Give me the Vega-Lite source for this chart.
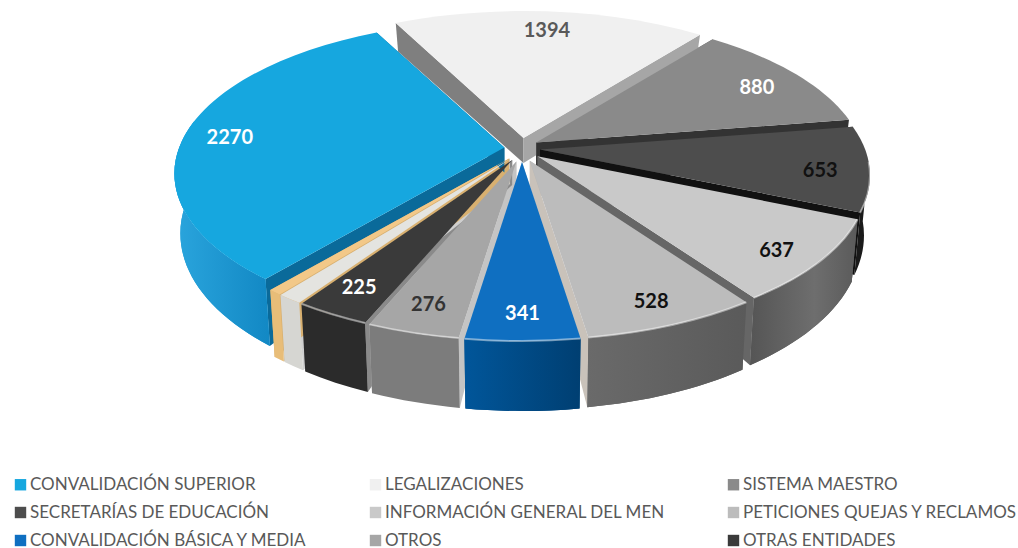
{"$schema":"https://vega.github.io/schema/vega-lite/v6.json","width":1018,"height":548,"autosize":"none","padding":0,"background":"white","config":{"view":{"stroke":null}},
"datasets":{"tabla":[
{"categoria":"LEGALIZACIONES","valor":1394,"orden":1},
{"categoria":"SISTEMA MAESTRO","valor":880,"orden":2},
{"categoria":"SECRETARÍAS DE EDUCACIÓN","valor":653,"orden":3},
{"categoria":"INFORMACIÓN GENERAL DEL MEN","valor":637,"orden":4},
{"categoria":"PETICIONES QUEJAS Y RECLAMOS","valor":528,"orden":5},
{"categoria":"CONVALIDACIÓN BÁSICA Y MEDIA","valor":341,"orden":6},
{"categoria":"OTROS","valor":276,"orden":7},
{"categoria":"OTRAS ENTIDADES","valor":225,"orden":8},
{"categoria":"SIN RÓTULO 1","valor":75,"orden":9},
{"categoria":"SIN RÓTULO 2","valor":40,"orden":10},
{"categoria":"CONVALIDACIÓN SUPERIOR","valor":2270,"orden":11}]},
"data":{"name":"tabla"},
"transform":[
{"joinaggregate":[{"op":"sum","field":"valor","as":"total"}]},
{"stack":"valor","sort":[{"field":"orden","order":"ascending"}],"as":["v0","v1"]},
{"calculate":"-28.5+datum.v0/datum.total*360","as":"fa"},
{"calculate":"-28.5+datum.v1/datum.total*360","as":"fb"},
{"calculate":"datum.fa-12*sin(PI*datum.fa/180)-1.5*max(0,-cos(PI*datum.fa/180))","as":"ta"},
{"calculate":"datum.fb-12*sin(PI*datum.fb/180)-1.5*max(0,-cos(PI*datum.fb/180))","as":"tb"},
{"calculate":"(datum.ta+datum.tb)/2","as":"tm"},
{"calculate":"max(datum.ta,85)","as":"wa"},
{"calculate":"min(datum.tb,290)","as":"wb"},
{"calculate":"522+18*sin(PI*datum.tm/180)","as":"px"},
{"calculate":"150-12*cos(PI*datum.tm/180)","as":"py"},
{"calculate":"330*sin(PI*datum.ta/180)","as":"xa"},
{"calculate":"26-153*cos(PI*datum.ta/180)","as":"ya"},
{"calculate":"330*sin(PI*datum.tb/180)","as":"xb"},
{"calculate":"26-153*cos(PI*datum.tb/180)","as":"yb"},
{"calculate":"324*sin(PI*datum.ta/180)","as":"bxa"},
{"calculate":"datum.ya+(cos(PI*datum.ta/180)>0?60-34*cos(PI*datum.ta/180):60-10*cos(PI*datum.ta/180))","as":"bya"},
{"calculate":"324*sin(PI*datum.tb/180)","as":"bxb"},
{"calculate":"datum.yb+(cos(PI*datum.tb/180)>0?60-45*cos(PI*datum.tb/180):60-10*cos(PI*datum.tb/180))","as":"byb"},
{"calculate":"330*sin(PI*datum.wa/180)","as":"wxa"},
{"calculate":"26-153*cos(PI*datum.wa/180)","as":"wya"},
{"calculate":"330*sin(PI*datum.wb/180)","as":"wxb"},
{"calculate":"26-153*cos(PI*datum.wb/180)","as":"wyb"},
{"calculate":"324*sin(PI*datum.wa/180)","as":"wbxa"},
{"calculate":"86-163*cos(PI*datum.wa/180)","as":"wbya"},
{"calculate":"324*sin(PI*datum.wb/180)","as":"wbxb"},
{"calculate":"86-163*cos(PI*datum.wb/180)","as":"wbyb"},
{"calculate":"'M0,0L'+datum.xa+','+datum.ya+'A330,153,0,0,1,'+datum.xb+','+datum.yb+'Z'","as":"caraSuperior"},
{"calculate":"'M0,0L'+datum.xa+','+datum.ya+'L'+datum.bxa+','+datum.bya+'L0,25Z'","as":"corteA"},
{"calculate":"'M0,0L'+datum.xb+','+datum.yb+'L'+datum.bxb+','+datum.byb+'L0,25Z'","as":"corteB"},
{"calculate":"'M'+datum.wxa+','+datum.wya+'A330,153,0,0,1,'+datum.wxb+','+datum.wyb+'L'+datum.wbxb+','+datum.wbyb+'A324,163,0,0,0,'+datum.wbxa+','+datum.wbya+'Z'","as":"pared"},
{"calculate":"'M'+datum.wxa+','+datum.wya+'A330,153,0,0,1,'+datum.wxb+','+datum.wyb","as":"borde"},
{"calculate":"datum.px+0.85*330*sin(PI*datum.tm/180)","as":"lx"},
{"calculate":"datum.py+0.85*(26-153*cos(PI*datum.tm/180))+5*sin(PI*datum.tm/180)","as":"ly"}
],
"encoding":{
"x":{"field":"px","type":"quantitative","scale":{"domain":[0,1018],"range":[0,1018],"nice":false,"zero":false},"axis":null},
"y":{"field":"py","type":"quantitative","scale":{"domain":[0,548],"range":[0,548],"nice":false,"zero":false},"axis":null}
},
"layer":[
{"mark":{"type":"point","filled":true,"size":4,"opacity":1},"encoding":{"shape":{"field":"corteA","type":"nominal","scale":null},
"color":{"field":"categoria","type":"nominal","legend":null,"scale":{"domain":["LEGALIZACIONES","SISTEMA MAESTRO","SECRETARÍAS DE EDUCACIÓN","INFORMACIÓN GENERAL DEL MEN","PETICIONES QUEJAS Y RECLAMOS","CONVALIDACIÓN BÁSICA Y MEDIA","OTROS","OTRAS ENTIDADES","SIN RÓTULO 1","SIN RÓTULO 2","CONVALIDACIÓN SUPERIOR"],"range":["#7f7f7f","#5a5a5a","#333333","#909090","#b8b4ae","#b9c4cc","#c4c4c4","#8a8a8a","#cfcfcf","#d8b070","#0a6a9a"]}}}},
{"mark":{"type":"point","filled":true,"size":4,"opacity":1},"encoding":{"shape":{"field":"corteB","type":"nominal","scale":null},
"color":{"field":"categoria","type":"nominal","legend":null,"scale":{"domain":["LEGALIZACIONES","SISTEMA MAESTRO","SECRETARÍAS DE EDUCACIÓN","INFORMACIÓN GENERAL DEL MEN","PETICIONES QUEJAS Y RECLAMOS","CONVALIDACIÓN BÁSICA Y MEDIA","OTROS","OTRAS ENTIDADES","SIN RÓTULO 1","SIN RÓTULO 2","CONVALIDACIÓN SUPERIOR"],"range":["#a6a6a6","#333333","#111111","#666666","#c9c2ba","#b9c4cc","#c4c4c4","#8a8a8a","#cfcfcf","#d8b070","#0a6a9a"]}}}},
{"transform":[{"filter":"datum.wb>datum.wa"}],"mark":{"type":"point","filled":true,"size":4,"opacity":1},"encoding":{"shape":{"field":"pared","type":"nominal","scale":null},
"color":{"field":"categoria","type":"nominal","legend":null,"scale":{"domain":["LEGALIZACIONES","SISTEMA MAESTRO","SECRETARÍAS DE EDUCACIÓN","INFORMACIÓN GENERAL DEL MEN","PETICIONES QUEJAS Y RECLAMOS","CONVALIDACIÓN BÁSICA Y MEDIA","OTROS","OTRAS ENTIDADES","SIN RÓTULO 1","SIN RÓTULO 2","CONVALIDACIÓN SUPERIOR"],"range":["#7f7f7f","#5a5a5a","#1a1a1a","#626262","#626262","#014a85","#7c7c7c","#2b2b2b","#d6d6d2","#e8bd78","#1f9cd6"]}}}},
{"transform":[{"filter":"datum.orden==4"}],"mark":{"type":"point","filled":true,"size":4,"opacity":1,"fill":{"gradient":"linear","x1":0,"y1":0,"x2":1,"y2":0,"stops":[{"offset":0,"color":"#555555"},{"offset":0.6,"color":"#6e6e6e"},{"offset":1,"color":"#5a5a5a"}]}},"encoding":{"shape":{"field":"pared","type":"nominal","scale":null}}},
{"transform":[{"filter":"datum.orden==5"}],"mark":{"type":"point","filled":true,"size":4,"opacity":1,"fill":{"gradient":"linear","x1":0,"y1":0,"x2":1,"y2":0,"stops":[{"offset":0,"color":"#6a6a6a"},{"offset":1,"color":"#5a5a5a"}]}},"encoding":{"shape":{"field":"pared","type":"nominal","scale":null}}},
{"transform":[{"filter":"datum.orden==6"}],"mark":{"type":"point","filled":true,"size":4,"opacity":1,"fill":{"gradient":"linear","x1":0,"y1":0,"x2":1,"y2":0,"stops":[{"offset":0,"color":"#01569a"},{"offset":1,"color":"#003f72"}]}},"encoding":{"shape":{"field":"pared","type":"nominal","scale":null}}},
{"transform":[{"filter":"datum.orden==11"}],"mark":{"type":"point","filled":true,"size":4,"opacity":1,"fill":{"gradient":"linear","x1":0,"y1":0,"x2":1,"y2":0,"stops":[{"offset":0,"color":"#2aa5dd"},{"offset":1,"color":"#1288c4"}]}},"encoding":{"shape":{"field":"pared","type":"nominal","scale":null}}},
{"mark":{"type":"point","filled":true,"size":4,"opacity":1},"encoding":{"shape":{"field":"caraSuperior","type":"nominal","scale":null},
"color":{"field":"categoria","type":"nominal","title":null,"scale":{"domain":["CONVALIDACIÓN SUPERIOR","LEGALIZACIONES","SISTEMA MAESTRO","SECRETARÍAS DE EDUCACIÓN","INFORMACIÓN GENERAL DEL MEN","PETICIONES QUEJAS Y RECLAMOS","CONVALIDACIÓN BÁSICA Y MEDIA","OTROS","OTRAS ENTIDADES","SIN RÓTULO 1","SIN RÓTULO 2"],"range":["#16a7df","#f0f0f0","#8a8a8a","#4d4d4d","#c9c9c9","#bcbcbc","#0f6fc1","#a6a6a6","#3a3a3a","#e4e4e0","#f2c888"]},
"legend":{"orient":"none","legendX":12,"legendY":476,"direction":"horizontal","columns":3,"values":["CONVALIDACIÓN SUPERIOR","LEGALIZACIONES","SISTEMA MAESTRO","SECRETARÍAS DE EDUCACIÓN","INFORMACIÓN GENERAL DEL MEN","PETICIONES QUEJAS Y RECLAMOS","CONVALIDACIÓN BÁSICA Y MEDIA","OTROS","OTRAS ENTIDADES"],"symbolType":"square","symbolSize":130,"labelFont":"Lato","labelFontSize":17,"labelColor":"#595959","labelLimit":400,"labelOffset":1,"columnPadding":59,"rowPadding":10,"gridAlign":"each"}}}},
{"transform":[{"filter":"datum.wb>datum.wa && datum.orden<9"}],"mark":{"type":"point","filled":false,"size":4,"strokeWidth":2,"opacity":0.45},"encoding":{"shape":{"field":"borde","type":"nominal","scale":null},"color":{"value":"#ffffff"}}},
{"transform":[{"filter":"datum.orden<9 || datum.orden==11"}],"mark":{"type":"text","font":"Lato","fontWeight":"bold","fontSize":20},"encoding":{"x":{"field":"lx","type":"quantitative"},"y":{"field":"ly","type":"quantitative"},"text":{"field":"valor","type":"quantitative"},
"color":{"field":"categoria","type":"nominal","legend":null,"scale":{"domain":["CONVALIDACIÓN SUPERIOR","LEGALIZACIONES","SISTEMA MAESTRO","SECRETARÍAS DE EDUCACIÓN","INFORMACIÓN GENERAL DEL MEN","PETICIONES QUEJAS Y RECLAMOS","CONVALIDACIÓN BÁSICA Y MEDIA","OTROS","OTRAS ENTIDADES"],"range":["#ffffff","#595959","#ffffff","#111111","#111111","#111111","#ffffff","#333333","#ffffff"]}}}}
],
"resolve":{"scale":{"color":"independent"}}}
